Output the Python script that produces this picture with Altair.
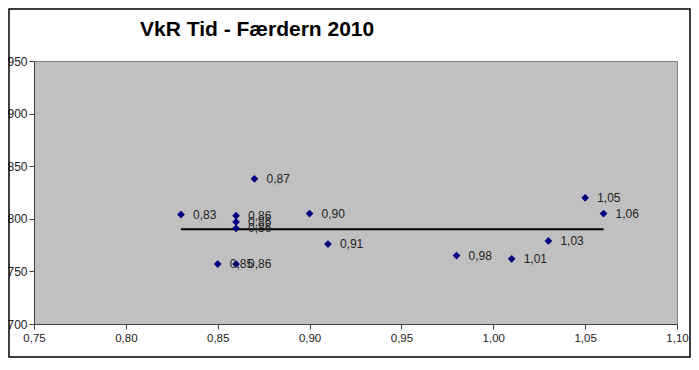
import altair as alt
import pandas as pd

# data
x_vals = [0.83, 0.87, 0.86, 0.86, 0.86, 0.85, 0.86, 0.90, 0.91, 0.98, 1.01, 1.03, 1.05, 1.06]
y_vals = [804, 838, 803, 797, 791, 757, 757, 805, 776, 765, 762, 779, 820, 805]
mean_x = [0.83]
mean_x2 = [1.06]
mean_y = [790]

title_text = "VkR Tid - Færdern 2010"
FONT = "Liberation Sans"

pts = pd.DataFrame({"x": x_vals, "y": y_vals})
mean_df = pd.DataFrame({"x": mean_x, "x2": mean_x2, "y": mean_y})
title_df = pd.DataFrame({"t": [title_text]})

xscale = alt.Scale(domain=[0.75, 1.10], nice=False, zero=False)
yscale = alt.Scale(domain=[700, 950], nice=False, zero=False)

xaxis = alt.Axis(values=[0.75, 0.80, 0.85, 0.90, 0.95, 1.00, 1.05, 1.10],
                 labelExpr="replace(format(datum.value, '.2f'), '.', ',')",
                 title=None, grid=False, domainColor="#404040", tickColor="#404040",
                 tickSize=5, labelPadding=3, labelFont=FONT, labelFontSize=11.5,
                 labelColor="#222222", labelFlush=False)
yaxis = alt.Axis(values=[700, 750, 800, 850, 900, 950], title=None, grid=False,
                 domainColor="#404040", tickColor="#404040", tickSize=5,
                 labelPadding=2, labelFont=FONT, labelFontSize=12,
                 labelColor="#222222", labelFlush=False)

points = alt.Chart(pts).mark_point(shape="diamond", filled=True, color="#000080",
                                   size=60, opacity=1).encode(
    x=alt.X("x:Q", scale=xscale, axis=xaxis),
    y=alt.Y("y:Q", scale=yscale, axis=yaxis),
)

labels = alt.Chart(pts).transform_calculate(
    lab="replace(format(datum.x, '.2f'), '.', ',')"
).mark_text(align="left", baseline="middle", dx=12, font=FONT, fontSize=12,
            color="#222222").encode(
    x=alt.X("x:Q", scale=xscale),
    y=alt.Y("y:Q", scale=yscale),
    text="lab:N",
)

meanline = alt.Chart(mean_df).mark_rule(color="black", strokeWidth=2).encode(
    x=alt.X("x:Q", scale=xscale),
    x2="x2:Q",
    y=alt.Y("y:Q", scale=yscale),
)

frame = alt.Chart(mean_df).mark_rect(fill=None, stroke="black", strokeWidth=1.5,
                                      clip=False).encode(
    x=alt.value(-25), x2=alt.value(656), y=alt.value(-52), y2=alt.value(296)
)

title = alt.Chart(title_df).mark_text(align="left", baseline="alphabetic",
                                      font=FONT, fontSize=21, fontWeight="bold",
                                      color="black").encode(
    x=alt.value(106), y=alt.value(-25), text="t:N"
)

chart = alt.layer(meanline, points, labels, frame, title).properties(
    width=643, height=263,
    autosize=alt.AutoSizeParams(type="none"),
    padding={"left": 26, "top": 53, "right": 14, "bottom": 34},
).configure(background="white").configure_view(
    fill="#C0C0C0", stroke="#808080", strokeWidth=1
)

chart.save("out.html", embed_options={"renderer": "svg", "actions": False})
